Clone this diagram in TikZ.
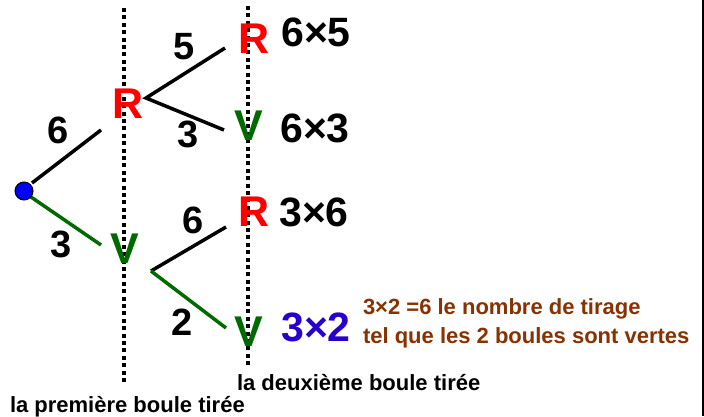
\documentclass[tikz,border=0pt]{standalone}
\usepackage{fontspec}
\setmainfont{Liberation Sans}
\definecolor{rred}{RGB}{255,0,0}
\definecolor{vgreen}{RGB}{0,105,0}
\definecolor{pblue}{RGB}{40,0,205}
\definecolor{brownt}{RGB}{135,50,0}
\begin{document}
\begin{tikzpicture}[x=1pt,y=-1pt,
  every node/.style={inner sep=0pt,outer sep=0pt,font=\bfseries},
  big/.style={font=\bfseries\fontsize{43}{43}\selectfont},
  prod/.style={font=\bfseries\fontsize{41}{41}\selectfont},
  lab/.style={font=\bfseries\fontsize{38}{38}\selectfont},
  small/.style={font=\bfseries\fontsize{22}{22}\selectfont},
  branch/.style={line width=3.5pt},
  gbranch/.style={line width=3.5pt,draw=vgreen},
  dotline/.style={line width=4pt,dash pattern=on 4pt off 3.4pt}]
\useasboundingbox (0,0) rectangle (704,416);
\fill[white] (0,0) rectangle (704,416);
\fill[black] (702,0) rectangle (704,416);
% dotted guides
\coordinate (d1a) at (124,8);
\coordinate (d1b) at (124,383);
\coordinate (d2a) at (248,6);
\coordinate (d2b) at (248,368);
\draw[dotline] (d1a) -- (d1b);
\draw[dotline] (d2a) -- (d2b);
% nodes
\node[big,text=rred] (R1) at (128,104) {R};
\node[big,text=vgreen] (V1) at (125,249) {V};
\node[big,text=rred] (R2) at (254,39) {R};
\node[big,text=vgreen] (V2) at (249,126) {V};
\node[big,text=rred] (R3) at (254,212) {R};
\node[big,text=vgreen] (V3) at (249,332) {V};
% branch endpoints
\coordinate (o1) at (32,183);
\coordinate (o2) at (31,197);
\coordinate (r1in) at (101,130);
\coordinate (v1in) at (101,245);
\coordinate (r1out) at (146,98);
\coordinate (r2in) at (225,48);
\coordinate (v2in) at (224,130);
\coordinate (v1out) at (151,271);
\coordinate (r3in) at (226,227);
\coordinate (v3in) at (226,328);
\draw[branch] (o1) -- (r1in);
\draw[gbranch] (o2) -- (v1in);
\draw[branch] (r2in) -- (r1out) -- (v2in);
\draw[branch] (v1out) -- (r3in);
\draw[gbranch] (v1out) -- (v3in);
% root
\node[circle,fill=blue,draw=black,line width=1pt,minimum size=18pt] (root) at (24,191) {};
% branch labels
\node[lab] (l6a) at (58,130) {6};
\node[lab] (l3a) at (61,244) {3};
\node[lab] (l5) at (184,47) {5};
\node[lab] (l3b) at (188,134) {3};
\node[lab] (l6b) at (193,220) {6};
\node[lab] (l2) at (182,322) {2};
% products
\node[prod] (p1) at (316,32) {6×5};
\node[prod] (p2) at (315,128) {6×3};
\node[prod] (p3) at (314,212) {3×6};
\node[prod,text=pblue] (p4) at (316,327) {3×2};
% explanation
\node[small,text=brownt,anchor=base west] (e1) at (363,314) {3×2 =6 le nombre de tirage};
\node[small,text=brownt,anchor=base west] (e2) at (363,343) {tel que les 2 boules sont vertes};
\node[small,anchor=base west] (t2) at (237,390) {la deuxième boule tirée};
\node[small,anchor=base west] (t1) at (10,412) {la première boule tirée};
\end{tikzpicture}
\end{document}
